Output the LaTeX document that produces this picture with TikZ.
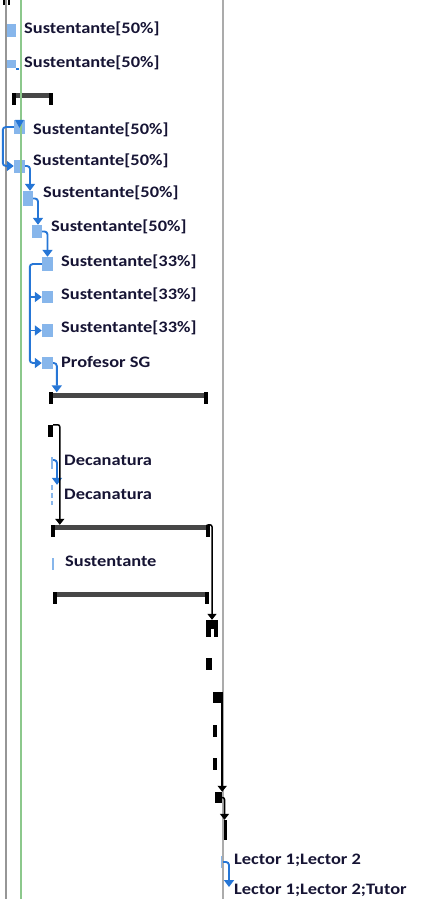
\documentclass[tikz,border=0pt]{standalone}
\usepackage{fontspec}
\usepackage{graphicx}
\setmainfont{Carlito}
\usetikzlibrary{arrows.meta}
\definecolor{barblue}{RGB}{135,182,235}
\definecolor{linkblue}{RGB}{38,118,214}
\definecolor{txt}{RGB}{22,20,52}
\definecolor{gridgray}{RGB}{150,150,150}
\definecolor{gridgreen}{RGB}{140,200,140}
\newcommand\wlabel[1]{\scalebox{1.15}[1]{#1}}

\begin{document}
\begin{tikzpicture}[x=1pt,y=-1pt,
  task/.style={fill=barblue,inner sep=0pt,minimum width=10pt,minimum height=13pt},
  thintask/.style={fill=barblue,inner sep=0pt,minimum width=2pt,minimum height=12pt},
  lbl/.style={anchor=west,inner sep=0pt,text=txt,font=\fontsize{16}{17}\selectfont\bfseries},
  sumbar/.style={fill=black!72,inner sep=0pt,minimum height=5pt},
  blk/.style={fill=black,inner sep=0pt},
  bluelink/.style={draw=linkblue,line width=1.9pt,rounded corners=3pt,-{Triangle[length=7pt,width=10pt]}},
  blacklink/.style={draw=black,line width=1.5pt,rounded corners=2pt,-{Triangle[length=6pt,width=9pt]}},
  gridline/.style={line width=1.3pt}]
\useasboundingbox (0,0) rectangle (424,899);
\clip (0,0) rectangle (424,899);

% task bars
\node[task] (b1) at (11,31) {};
\node[task,minimum height=8pt] (b2) at (11,64) {};
\fill[linkblue] (b2.south east) rectangle ++(3,1.5);
\node[task,minimum width=11pt,minimum height=14pt] (b4) at (19.5,127) {};
\node[task,minimum width=11pt] (b5) at (19.5,166) {};
\node[task,minimum height=15pt] (b6) at (28,198.5) {};
\node[task] (b7) at (37,231.5) {};
\node[task,minimum width=11pt,minimum height=14pt] (b8) at (47.5,264) {};
\node[task,minimum width=11pt,minimum height=12pt] (b9) at (47.5,297) {};
\node[task,minimum width=11pt] (b10) at (47.5,330.5) {};
\node[task,minimum width=11pt,minimum height=12pt] (b11) at (47.5,363) {};
\node[thintask] (db1) at (52,463) {};
\node[inner sep=0pt,minimum width=2pt,minimum height=20pt] (db2) at (52,495) {};
\draw[barblue,line width=2pt,dash pattern=on 5pt off 3pt] (db2.north) -- (db2.south);
\node[thintask] (sb) at (53,563.5) {};
\node[thintask] (lb1) at (222,862) {};

% summary bars with their end ticks
\fill (3,0) rectangle (5,5);
\fill (8,0) rectangle (10,5);
\node[sumbar,minimum width=41pt] (sb1) at (32.5,95.5) {};
\node[sumbar,minimum width=159pt] (sb2) at (128.5,395) {};
\node[sumbar,minimum width=159pt] (sb3) at (130.5,527.5) {};
\node[sumbar,minimum width=156pt] (sb4) at (131,594.5) {};
\foreach \s in {sb1,sb2,sb3,sb4}{
  \fill (\s.north west) rectangle ++(4,12);
  \fill (\s.north east) rectangle ++(-4,12);
}

% black milestones and dashes
\node[blk,minimum width=5pt,minimum height=12pt] (st) at (50.5,431) {};
\node[blk,minimum width=12pt,minimum height=17pt] (m1) at (212,628.5) {};
\fill[white] (210.5,629) rectangle (213.5,637);
\node[blk,minimum width=6pt,minimum height=12pt] (k1) at (209,664) {};
\node[blk,minimum width=9pt,minimum height=11pt] (m2) at (217.5,697.5) {};
\node[blk,minimum width=4pt,minimum height=12pt] (k2) at (215,731) {};
\node[blk,minimum width=4pt,minimum height=12pt] (k3) at (215,764) {};
\node[blk,minimum width=7pt,minimum height=11pt] (m3) at (218.5,797.5) {};
\node[blk,minimum width=4pt,minimum height=20pt] (m4) at (224.5,830) {};

% column guides
\draw[gridgray,line width=1.6pt] (6,0) -- (6,899);
\draw[gridgreen,gridline] (21,0) -- (21,899);
\draw[gridgray!80,gridline] (223,0) -- (223,899);

% blue dependency links
\fill[linkblue] ([xshift=-4.5pt]b4.north) -- ([xshift=4.5pt]b4.north) -- ([yshift=-8pt]b4.north) -- cycle;
\draw[bluelink] (b4.west) -- ++(-11,0) |- (b5.west);
\draw[bluelink] (b5.east) -| ([xshift=2pt]b6.north);
\draw[bluelink] (b6.east) -| ([xshift=1pt]b7.north);
\draw[bluelink] (b7.east) -| (b8.north);
\coordinate (trunk) at ([xshift=-12pt]b8.west);
\draw[bluelink] (b8.west) -- (trunk) |- (b11.west);
\draw[bluelink] (trunk |- b9.west) -- (b9.west);
\draw[bluelink] (trunk |- b10.west) -- (b10.west);
\draw[bluelink] (b11.east) -| ([xshift=8pt]sb2.north west);
\draw[bluelink] ([yshift=3pt]db1.east) -| ([xshift=5pt]db2.north);
\coordinate (ltip) at (229,887);
\draw[bluelink] (lb1.east) -| (ltip);

% black dependency links
\draw[blacklink] (st.north east) -| ([xshift=9pt]sb3.north west);
\draw[blacklink] (sb3.north east) -| (m1.north);
\draw[blacklink] (m2.north east) -- (m2.north east |- m3.north);
\draw[blacklink] (m3.east) -| (m4.north);

% resource labels
\node[lbl] (t1) at (24,29) {\wlabel{Sustentante[50\%]}};
\node[lbl] (t2) at (24,63) {\wlabel{Sustentante[50\%]}};
\node[lbl] (t4) at (33,130) {\wlabel{Sustentante[50\%]}};
\node[lbl] (t5) at (33,161) {\wlabel{Sustentante[50\%]}};
\node[lbl] (t6) at (43,193) {\wlabel{Sustentante[50\%]}};
\node[lbl] (t7) at (51,227) {\wlabel{Sustentante[50\%]}};
\node[lbl] (t8) at (61,262) {\wlabel{Sustentante[33\%]}};
\node[lbl] (t9) at (61,295) {\wlabel{Sustentante[33\%]}};
\node[lbl] (t10) at (61,328) {\wlabel{Sustentante[33\%]}};
\node[lbl] (t11) at (61,362) {\wlabel{Profesor SG}};
\node[lbl] (td1) at (64,460) {\wlabel{Decanatura}};
\node[lbl] (td2) at (64,494) {\wlabel{Decanatura}};
\node[lbl] (ts) at (65,561) {\wlabel{Sustentante}};
\node[lbl] (tl1) at (234,860) {\wlabel{Lector 1;Lector 2}};
\node[lbl] (tl2) at (234,890) {\wlabel{Lector 1;Lector 2;Tutor}};
\end{tikzpicture}
\end{document}
